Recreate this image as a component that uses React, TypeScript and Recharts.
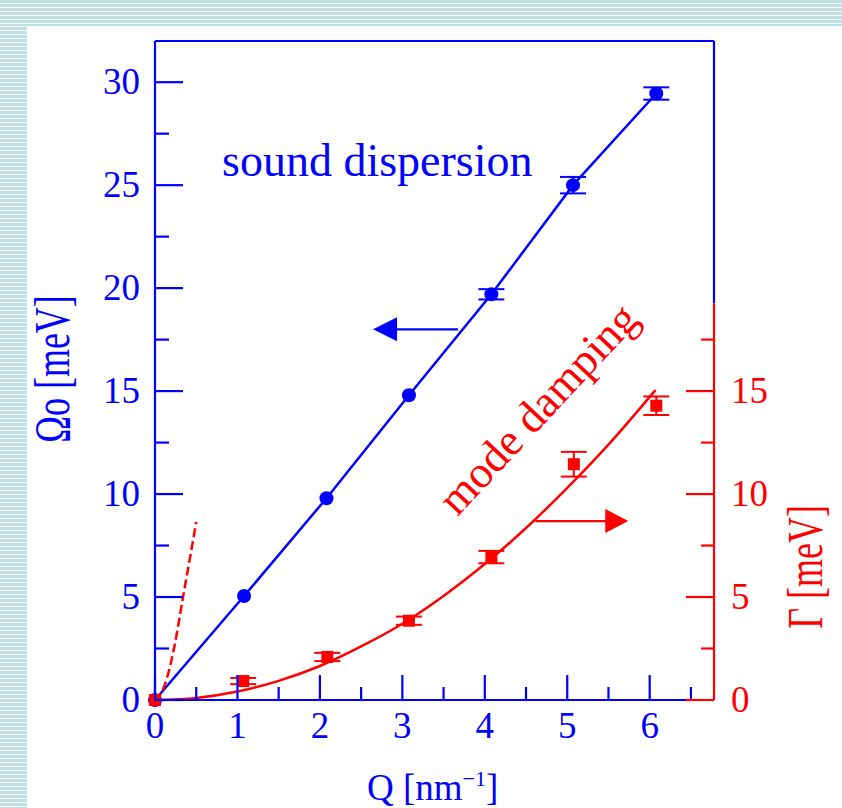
import {
  ComposedChart,
  Line,
  Scatter,
  ErrorBar,
  XAxis,
  YAxis,
  ReferenceLine,
  ReferenceDot,
} from "recharts";

const BLUE = "#0000ff";
const RED = "#ff0000";
const FONT = "'Liberation Serif', 'Times New Roman', serif";

// sound dispersion (left axis)
const omegaQ = [0, 1.08, 2.08, 3.08, 4.08, 5.07, 6.08];
const omega = [0, 5.05, 9.8, 14.8, 19.7, 25.0, 29.45];
const omegaErr = [0, 0, 0, 0, 0.25, 0.4, 0.3];

// mode damping (right axis)
const gammaQ = [0, 1.07, 2.09, 3.08, 4.08, 5.08, 6.08];
const gamma = [0, 0.92, 2.09, 3.85, 6.94, 11.45, 14.29];
const gammaErr = [0, 0.15, 0.2, 0.2, 0.3, 0.6, 0.45];

// damping fit curve
const fitQ = [0, 0.5, 1, 1.5, 2, 2.5, 3, 3.5, 4, 4.5, 5, 5.5, 6.07];
const fitGamma = [0, 0.1, 0.41, 0.93, 1.65, 2.6, 3.7, 5.05, 6.6, 8.35, 10.3, 12.4, 15.05];

// dashed steep curve near origin
const hydroQ = [0, 0.07, 0.14, 0.24, 0.34, 0.42, 0.5];
const hydroGamma = [0, 0.3, 1.0, 2.7, 5.0, 6.8, 8.65];

const xTicks = [0, 0.5, 1, 1.5, 2, 2.5, 3, 3.5, 4, 4.5, 5, 5.5, 6, 6.5];
const leftTicks = [0, 2.5, 5, 7.5, 10, 12.5, 15, 17.5, 20, 22.5, 25, 27.5, 30];
const rightTicks = [0, 2.5, 5, 7.5, 10, 12.5, 15, 17.5];

const X_MAX = 6.78;
const Y_MAX = 32;
const RED_AXIS_TOP = 19.27;

// arrows: [fromQ, toQ, value]
const blueArrow = [3.675, 2.645, 18.0];
const redArrow = [4.61, 5.74, 8.69];

const zip = (xs: number[], ys: number[], es?: number[]) =>
  xs.map((x, i) => ({ x, y: ys[i], err: es ? es[i] : 0 }));

const omegaData = zip(omegaQ, omega, omegaErr);
const gammaData = zip(gammaQ, gamma, gammaErr);
const fitData = zip(fitQ, fitGamma);
const hydroData = zip(hydroQ, hydroGamma);

const isInt = (v: number) => Math.abs(v - Math.round(v)) < 1e-6;

function BottomTick(props: any) {
  const { x, y, payload } = props;
  const v = payload.value;
  const major = isInt(v);
  return (
    <g>
      <line x1={x} x2={x} y1={y} y2={y - (major ? 25 : 13)} stroke={BLUE} strokeWidth={2.2} />
      {major && (
        <text x={x} y={y + 38} textAnchor="middle" fill={BLUE} fontSize={37} fontFamily={FONT}>
          {v}
        </text>
      )}
    </g>
  );
}

function TopTick(props: any) {
  const { x, y, payload } = props;
  const major = isInt(payload.value);
  return <line x1={x} x2={x} y1={y} y2={y + (major ? 27 : 13)} stroke={BLUE} strokeWidth={2.2} />;
}

function LeftTick(props: any) {
  const { x, y, payload } = props;
  const v = payload.value;
  const major = v % 5 === 0;
  return (
    <g>
      <line x1={x} x2={x + (major ? 28 : 14)} y1={y} y2={y} stroke={BLUE} strokeWidth={2.2} />
      {major && (
        <text x={x - 15} y={y + 12} textAnchor="end" fill={BLUE} fontSize={37} fontFamily={FONT}>
          {v}
        </text>
      )}
    </g>
  );
}

function RightTick(props: any) {
  const { x, y, payload } = props;
  const v = payload.value;
  const major = v % 5 === 0;
  return (
    <g>
      <line x1={x} x2={x - (major ? 28 : 13)} y1={y} y2={y} stroke={RED} strokeWidth={2.2} />
      {major && (
        <text x={x + 17} y={y + 12} textAnchor="start" fill={RED} fontSize={37} fontFamily={FONT}>
          {v}
        </text>
      )}
    </g>
  );
}

const BlueDot = (p: any) => <circle cx={p.cx} cy={p.cy} r={7} fill={BLUE} />;
const RedSquare = (p: any) => <rect x={p.cx - 6} y={p.cy - 6} width={12} height={12} fill={RED} />;

const headLeft = (color: string) => (p: any) => (
  <polygon points={`${p.cx},${p.cy} ${p.cx + 24},${p.cy - 12} ${p.cx + 24},${p.cy + 12}`} fill={color} />
);
const headRight = (color: string) => (p: any) => (
  <polygon points={`${p.cx},${p.cy} ${p.cx - 23},${p.cy - 12} ${p.cx - 23},${p.cy + 12}`} fill={color} />
);

const stripes = "repeating-linear-gradient(to bottom, #bde1e3 0px, #bde1e3 3px, #ffffff 3px, #ffffff 4px)";

export default function App() {
  return (
    <div style={{ position: "absolute", left: 0, top: 0, width: 842, height: 808, background: "#fff", overflow: "hidden" }}>
      <div style={{ position: "absolute", left: 0, top: 0, width: 842, height: 26, background: stripes }} />
      <div style={{ position: "absolute", left: 0, top: 27, width: 27, height: 781, background: stripes }} />
      <div style={{ position: "absolute", left: 0, top: 0 }}>
        <ComposedChart width={842} height={808} margin={{ top: 21, right: 68, bottom: 68, left: 95 }}>
          <XAxis
            xAxisId="b"
            dataKey="x"
            type="number"
            domain={[0, X_MAX]}
            ticks={xTicks}
            interval={0}
            height={40}
            tickSize={0}
            tickMargin={0}
            tickLine={false}
            axisLine={{ stroke: BLUE, strokeWidth: 2.2 }}
            tick={<BottomTick />}
          />
          <XAxis
            xAxisId="t"
            orientation="top"
            dataKey="x"
            type="number"
            domain={[0, X_MAX]}
            ticks={xTicks}
            interval={0}
            height={20}
            tickSize={0}
            tickMargin={0}
            tickLine={false}
            axisLine={{ stroke: BLUE, strokeWidth: 2.2 }}
            tick={<TopTick />}
          />
          <YAxis
            yAxisId="l"
            type="number"
            domain={[0, Y_MAX]}
            ticks={leftTicks}
            interval={0}
            width={60}
            tickSize={0}
            tickMargin={0}
            tickLine={false}
            axisLine={{ stroke: BLUE, strokeWidth: 2.2 }}
            tick={<LeftTick />}
          />
          <YAxis
            yAxisId="r"
            orientation="right"
            type="number"
            domain={[0, Y_MAX]}
            ticks={rightTicks}
            interval={0}
            width={60}
            tickSize={0}
            tickMargin={0}
            tickLine={false}
            axisLine={false}
            tick={<RightTick />}
          />
          <ReferenceLine
            xAxisId="b"
            yAxisId="r"
            segment={[{ x: X_MAX, y: 0 }, { x: X_MAX, y: RED_AXIS_TOP }]}
            stroke={RED}
            strokeWidth={2.2}
          />
          <ReferenceLine
            xAxisId="b"
            yAxisId="r"
            segment={[{ x: X_MAX, y: RED_AXIS_TOP }, { x: X_MAX, y: Y_MAX }]}
            stroke={BLUE}
            strokeWidth={2.2}
          />

          <Line
            xAxisId="b"
            yAxisId="l"
            data={omegaData}
            dataKey="y"
            type="linear"
            stroke={BLUE}
            strokeWidth={2.5}
            dot={false}
            isAnimationActive={false}
          />
          <Line
            xAxisId="b"
            yAxisId="r"
            data={fitData}
            dataKey="y"
            type="monotone"
            stroke={RED}
            strokeWidth={2.5}
            dot={false}
            isAnimationActive={false}
          />
          <Line
            xAxisId="b"
            yAxisId="r"
            data={hydroData}
            dataKey="y"
            type="monotone"
            stroke={RED}
            strokeWidth={2.5}
            strokeDasharray="9 4"
            dot={false}
            isAnimationActive={false}
          />
          <Scatter xAxisId="b" yAxisId="l" data={omegaData} dataKey="y" shape={BlueDot} isAnimationActive={false}>
            <ErrorBar dataKey="err" direction="y" width={13} stroke={BLUE} strokeWidth={2} />
          </Scatter>
          <Scatter xAxisId="b" yAxisId="r" data={gammaData} dataKey="y" shape={RedSquare} isAnimationActive={false}>
            <ErrorBar dataKey="err" direction="y" width={13} stroke={RED} strokeWidth={2} />
          </Scatter>

          <ReferenceLine
            xAxisId="b"
            yAxisId="l"
            segment={[{ x: blueArrow[0], y: blueArrow[2] }, { x: blueArrow[1] + 0.2, y: blueArrow[2] }]}
            stroke={BLUE}
            strokeWidth={2.2}
          />
          <ReferenceDot xAxisId="b" yAxisId="l" x={blueArrow[1]} y={blueArrow[2]} shape={headLeft(BLUE)} />
          <ReferenceLine
            xAxisId="b"
            yAxisId="r"
            segment={[{ x: redArrow[0], y: redArrow[2] }, { x: redArrow[1] - 0.2, y: redArrow[2] }]}
            stroke={RED}
            strokeWidth={2.2}
          />
          <ReferenceDot xAxisId="b" yAxisId="r" x={redArrow[1]} y={redArrow[2]} shape={headRight(RED)} />
        </ComposedChart>
      </div>
      <svg width={842} height={808} style={{ position: "absolute", left: 0, top: 0, pointerEvents: "none" }}>
        <text x={222} y={176} fill={BLUE} fontSize={46} fontFamily={FONT}>
          sound dispersion
        </text>
        <text
          x={549}
          y={419}
          textAnchor="middle"
          fill={RED}
          fontSize={45}
          fontFamily={FONT}
          transform="rotate(-47 549 419)"
        >
          mode damping
        </text>
        <g transform="translate(69 369) rotate(-90) scale(1 1.38)">
          <text x={0} y={0} textAnchor="middle" fill={BLUE} fontSize={36} fontFamily={FONT}>
            Ωo [meV]
          </text>
        </g>
        <g transform="translate(822 567) rotate(-90) scale(1 1.38)">
          <text x={0} y={0} textAnchor="middle" fill={RED} fontSize={36} fontFamily={FONT}>
            Γ [meV]
          </text>
        </g>
        <text x={367} y={800} fill={BLUE} fontSize={37} fontFamily={FONT}>
          Q [nm
          <tspan fontSize={22} dy={-14}>−1</tspan>
          <tspan dy={14}>]</tspan>
        </text>
      </svg>
    </div>
  );
}
